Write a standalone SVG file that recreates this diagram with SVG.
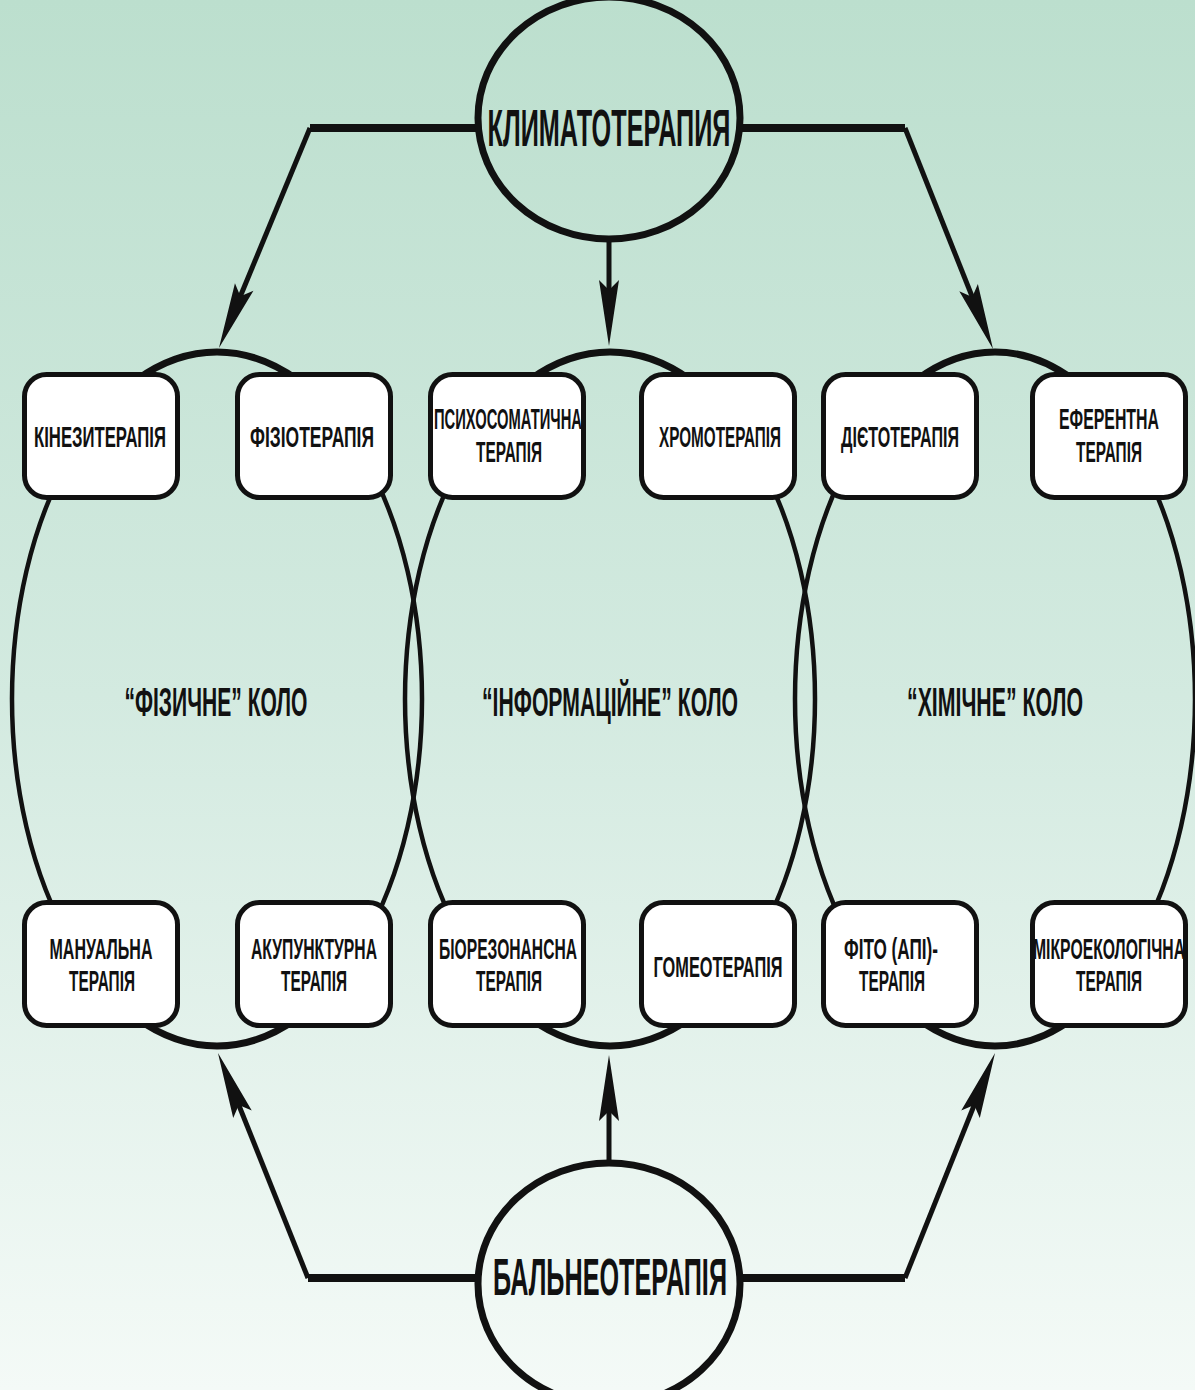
<svg xmlns="http://www.w3.org/2000/svg" width="1195" height="1390" viewBox="0 0 1195 1390">
<defs>
<linearGradient id="bg" x1="0" y1="0" x2="0" y2="1">
<stop offset="0" stop-color="#bcdfce"/>
<stop offset="0.5" stop-color="#d3eae0"/>
<stop offset="1" stop-color="#f4faf7"/>
</linearGradient>
<marker id="ah" markerUnits="userSpaceOnUse" markerWidth="80" markerHeight="24" viewBox="-50 -12 80 24" refX="0" refY="0" orient="auto" overflow="visible">
<path d="M20 0 L-46 -10 L-36 0 L-46 10 Z" fill="#111"/>
</marker>
</defs>
<style>
text{font-family:"Liberation Sans Narrow","Liberation Sans",Arial,sans-serif;font-weight:bold;fill:#111;stroke:none;text-anchor:middle}
.box rect{fill:#fff;stroke:#111;stroke-width:5}
.box text{font-size:29px}
.ring{fill:none;stroke:#111;stroke-width:4.5}
.arc{fill:none;stroke:#111;stroke-width:7}
.hub ellipse{fill:none;stroke:#111;stroke-width:7}
.hub text{font-size:52px}
.lbl{font-size:41px}
.h{fill:none;stroke:#111;stroke-width:8}
.d{fill:none;stroke:#111;stroke-width:5;marker-end:url(#ah)}
</style>
<rect x="0" y="0" width="1195" height="1390" fill="url(#bg)"/>

<g id="rings">
<g id="ring-physical"><ellipse class="ring" cx="217" cy="699" rx="205" ry="347"/><path class="arc" d="M136.3 380 A205 347 0 0 1 297.7 380 M136.3 1018 A205 347 0 0 0 297.7 1018"/><text class="lbl" x="216" y="716" textLength="183" lengthAdjust="spacingAndGlyphs">“ФІЗИЧНЕ” КОЛО</text></g>
<g id="ring-info"><ellipse class="ring" cx="610" cy="699" rx="205" ry="347"/><path class="arc" d="M529.3 380 A205 347 0 0 1 690.7 380 M529.3 1018 A205 347 0 0 0 690.7 1018"/><text class="lbl" x="610" y="716" textLength="256" lengthAdjust="spacingAndGlyphs">“ІНФОРМАЦІЙНЕ” КОЛО</text></g>
<g id="ring-chem"><ellipse class="ring" cx="995" cy="699" rx="200" ry="347"/><path class="arc" d="M916.3 380 A200 347 0 0 1 1073.7 380 M916.3 1018 A200 347 0 0 0 1073.7 1018"/><text class="lbl" x="995" y="716" textLength="176" lengthAdjust="spacingAndGlyphs">“ХІМІЧНЕ” КОЛО</text></g>
</g>

<g id="connectors">
<path class="h" d="M478 128 L310 128"/>
<path class="d" d="M310 128 L226.6 329.5"/>
<path class="h" d="M741 128 L905 128"/>
<path class="d" d="M905 128 L985.6 330.4"/>
<path class="d" d="M609 240 L609 326"/>
<path class="h" d="M478 1278 L308 1278"/>
<path class="d" d="M308 1278 L225.4 1071.6"/>
<path class="h" d="M741 1278 L905 1278"/>
<path class="d" d="M905 1278 L987.6 1071.6"/>
<path class="d" d="M609 1163 L609 1075"/>
</g>

<g id="climato" class="hub"><ellipse cx="609" cy="118" rx="131" ry="121"/><text x="609" y="146" textLength="243" lengthAdjust="spacingAndGlyphs">КЛИМАТОТЕРАПИЯ</text></g>
<g id="balneo" class="hub"><ellipse cx="609" cy="1284" rx="131" ry="121"/><text x="610" y="1295" textLength="234" lengthAdjust="spacingAndGlyphs">БАЛЬНЕОТЕРАПІЯ</text></g>

<g id="kinezi" class="box"><rect x="24.5" y="374.5" width="153" height="123" rx="22"/><text x="100" y="447" textLength="132" lengthAdjust="spacingAndGlyphs">КІНЕЗИТЕРАПІЯ</text></g>
<g id="fizio" class="box"><rect x="237.5" y="374.5" width="153" height="123" rx="22"/><text x="312" y="447" textLength="124" lengthAdjust="spacingAndGlyphs">ФІЗІОТЕРАПІЯ</text></g>
<g id="psycho" class="box"><rect x="430.5" y="374.5" width="153" height="123" rx="22"/><text x="508" y="429" textLength="148" lengthAdjust="spacingAndGlyphs">ПСИХОСОМАТИЧНА</text><text x="509" y="462" textLength="66" lengthAdjust="spacingAndGlyphs">ТЕРАПІЯ</text></g>
<g id="chromo" class="box"><rect x="641.5" y="374.5" width="153" height="123" rx="22"/><text x="720" y="447" textLength="122" lengthAdjust="spacingAndGlyphs">ХРОМОТЕРАПІЯ</text></g>
<g id="dieto" class="box"><rect x="823.5" y="374.5" width="153" height="123" rx="22"/><text x="900" y="447" textLength="118" lengthAdjust="spacingAndGlyphs">ДІЄТОТЕРАПІЯ</text></g>
<g id="eferent" class="box"><rect x="1032.5" y="374.5" width="153" height="123" rx="22"/><text x="1109" y="429" textLength="100" lengthAdjust="spacingAndGlyphs">ЕФЕРЕНТНА</text><text x="1109" y="462" textLength="66" lengthAdjust="spacingAndGlyphs">ТЕРАПІЯ</text></g>

<g id="manual" class="box"><rect x="24.5" y="902.5" width="153" height="123" rx="22"/><text x="101" y="959" textLength="103" lengthAdjust="spacingAndGlyphs">МАНУАЛЬНА</text><text x="102" y="991" textLength="66" lengthAdjust="spacingAndGlyphs">ТЕРАПІЯ</text></g>
<g id="akupunkt" class="box"><rect x="237.5" y="902.5" width="153" height="123" rx="22"/><text x="314" y="959" textLength="126" lengthAdjust="spacingAndGlyphs">АКУПУНКТУРНА</text><text x="314" y="991" textLength="66" lengthAdjust="spacingAndGlyphs">ТЕРАПІЯ</text></g>
<g id="biorez" class="box"><rect x="430.5" y="902.5" width="153" height="123" rx="22"/><text x="508" y="959" textLength="138" lengthAdjust="spacingAndGlyphs">БІОРЕЗОНАНСНА</text><text x="509" y="991" textLength="66" lengthAdjust="spacingAndGlyphs">ТЕРАПІЯ</text></g>
<g id="gomeo" class="box"><rect x="641.5" y="902.5" width="153" height="123" rx="22"/><text x="718" y="977" textLength="129" lengthAdjust="spacingAndGlyphs">ГОМЕОТЕРАПІЯ</text></g>
<g id="fito" class="box"><rect x="823.5" y="902.5" width="153" height="123" rx="22"/><text x="891" y="959" textLength="94" lengthAdjust="spacingAndGlyphs">ФІТО (АПІ)-</text><text x="892" y="991" textLength="66" lengthAdjust="spacingAndGlyphs">ТЕРАПІЯ</text></g>
<g id="mikro" class="box"><rect x="1032.5" y="902.5" width="153" height="123" rx="22"/><text x="1109" y="959" textLength="152" lengthAdjust="spacingAndGlyphs">МІКРОЕКОЛОГІЧНА</text><text x="1109" y="991" textLength="66" lengthAdjust="spacingAndGlyphs">ТЕРАПІЯ</text></g>
</svg>
